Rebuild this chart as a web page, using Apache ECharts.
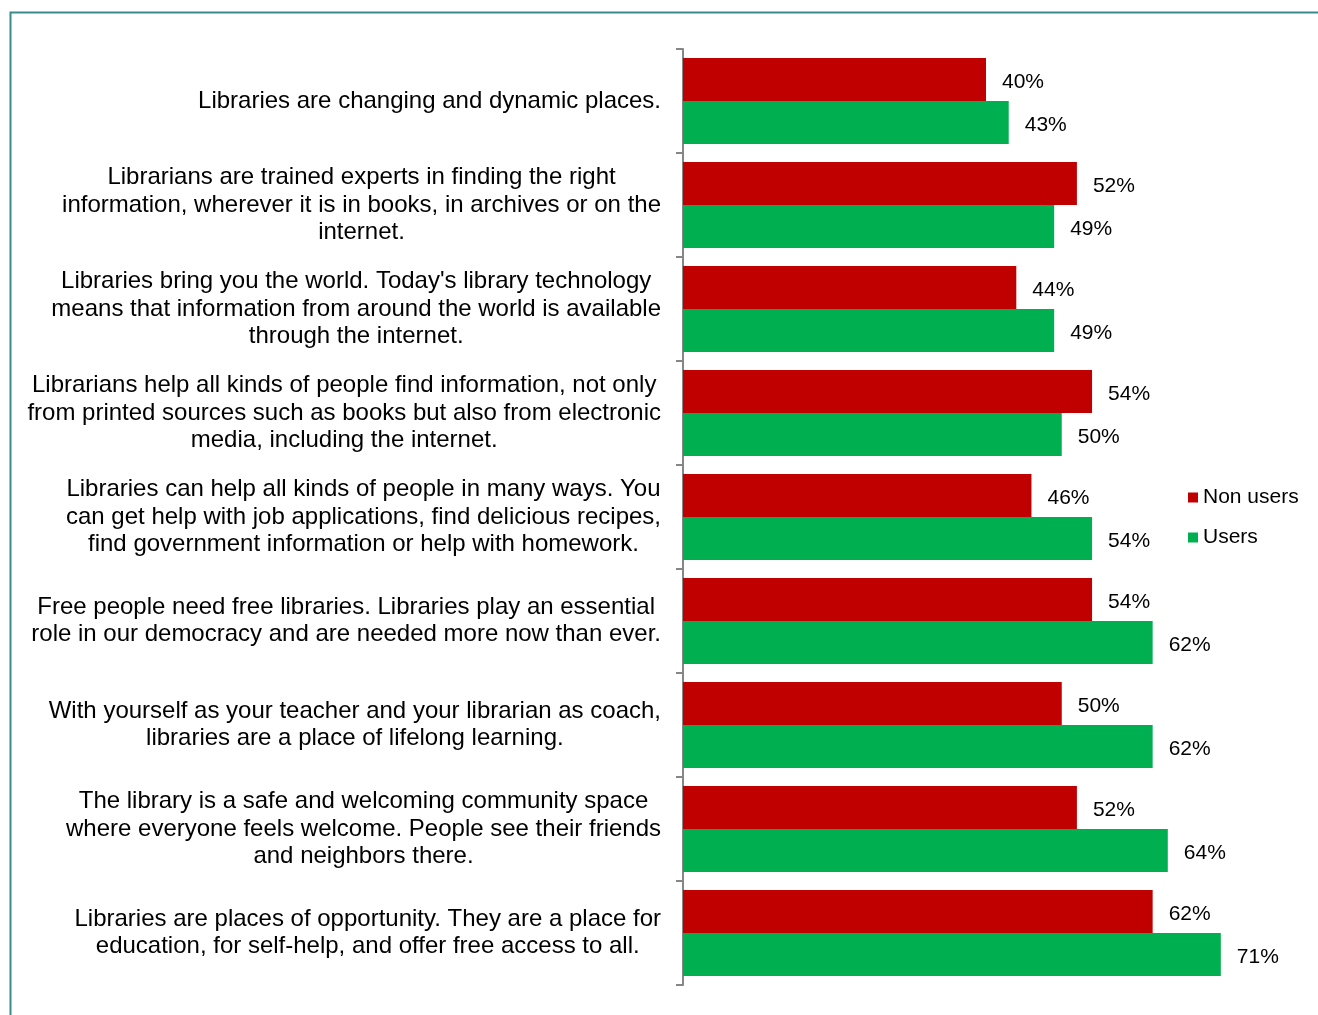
<!DOCTYPE html>
<html>
<head>
<meta charset="utf-8">
<script src="https://cdn.jsdelivr.net/npm/echarts@6/dist/echarts.min.js"></script>
<style>
  html, body { margin: 0; padding: 0; background: #fff; }
  #chart { width: 1318px; height: 1015px; }
</style>
</head>
<body>
<div id="chart"></div>
<script>
// Statements about libraries (top to bottom)
const statements = [
  "Libraries are changing and dynamic places.",
  "Librarians are trained experts in finding the right\ninformation, wherever it is in books, in archives or on the\ninternet.",
  "Libraries bring you the world. Today's library technology\nmeans that information from around the world is available\nthrough the internet.",
  "Librarians help all kinds of people find information, not only\nfrom printed sources such as books but also from electronic\nmedia, including the internet.",
  "Libraries can help all kinds of people in many ways. You\ncan get help with job applications, find delicious recipes,\nfind government information or help with homework.",
  "Free people need free libraries. Libraries play an essential\nrole in our democracy and are needed more now than ever.",
  "With yourself as your teacher and your librarian as coach,\nlibraries are a place of lifelong learning.",
  "The library is a safe and welcoming community space\nwhere everyone feels welcome. People see their friends\nand neighbors there.",
  "Libraries are places of opportunity. They are a place for\neducation, for self-help, and offer free access to all."
];

// Share agreeing, in percent
const nonUsers = [40, 52, 44, 54, 46, 54, 50, 52, 62];
const users    = [43, 49, 49, 50, 54, 62, 62, 64, 71];

const FONT = "'Liberation Sans', Arial, sans-serif";

const chart = echarts.init(document.getElementById('chart'), null, { renderer: 'canvas' });

const valueLabel = {
  show: true, position: 'right', distance: 16, offset: [0, 3],
  formatter: '{c}%', fontSize: 21, color: '#000', fontFamily: FONT
};

chart.setOption({
  backgroundColor: '#ffffff',
  animation: false,
  textStyle: { fontFamily: FONT },
  graphic: [{
    type: 'rect',
    left: 8, top: 10,
    shape: { width: 1400, height: 1100 },
    style: { fill: 'none', stroke: '#3a8c8c', lineWidth: 2 },
    silent: true
  }],
  legend: {
    orient: 'vertical',
    left: 1183,
    top: 482,
    itemWidth: 10,
    itemHeight: 10,
    itemGap: 19,
    icon: 'rect',
    textStyle: { fontSize: 21, color: '#000', fontFamily: FONT },
    data: ['Non users', 'Users']
  },
  grid: {
    left: 683,
    top: 49,
    width: 606,
    height: 936,
    containLabel: false
  },
  xAxis: {
    type: 'value',
    min: 0,
    max: 80,
    show: false
  },
  yAxis: {
    type: 'category',
    inverse: true,
    data: statements,
    axisLine: { show: true, lineStyle: { color: '#868686', width: 2 } },
    axisTick: { show: true, length: 7, lineStyle: { color: '#868686', width: 2 } },
    axisLabel: {
      interval: 0,
      margin: 22,
      formatter: function (v) {
        return v.split('\n').map(function (l) { return '{c|' + l + '}'; }).join('\n');
      },
      rich: {
        c: { align: 'center', fontSize: 24, lineHeight: 27.5, color: '#000', fontFamily: FONT }
      }
    }
  },
  series: [
    {
      name: 'Non users',
      type: 'bar',
      data: nonUsers,
      barGap: '0%',
      barCategoryGap: '17.4%',
      itemStyle: { color: '#c00000' },
      label: valueLabel
    },
    {
      name: 'Users',
      type: 'bar',
      data: users,
      barGap: '0%',
      barCategoryGap: '17.4%',
      itemStyle: { color: '#00b050' },
      label: valueLabel
    }
  ]
});
</script>
</body>
</html>
